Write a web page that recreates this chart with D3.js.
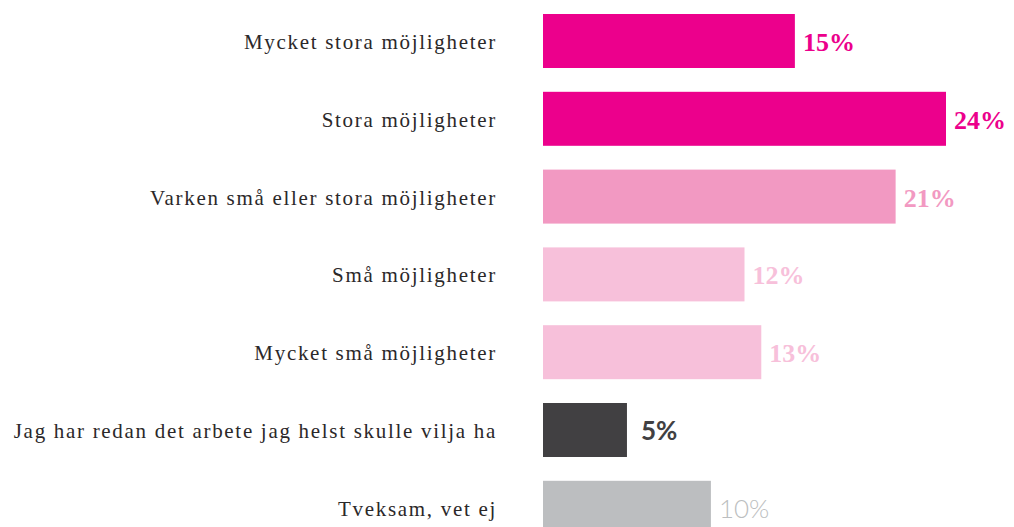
<!DOCTYPE html>
<html>
<head>
<meta charset="utf-8">
<script src="https://cdn.jsdelivr.net/npm/d3@7"></script>
<style>
  body { margin: 0; background: #fff; }
</style>
</head>
<body>
<svg id="chart" width="1014" height="527"></svg>
<script>
// Data
const categories = [
    "Mycket stora möjligheter",
    "Stora möjligheter",
    "Varken små eller stora möjligheter",
    "Små möjligheter",
    "Mycket små möjligheter",
    "Jag har redan det arbete jag helst skulle vilja ha",
    "Tveksam, vet ej"
];
const values = [15, 24, 21, 12, 13, 5, 10];
const valueLabels = ["15%", "24%", "21%", "12%", "13%", "5%", "10%"];

const colors = ["#ec008c", "#ec008c", "#f299c2", "#f7c0da", "#f7c0da", "#414042", "#bcbec0"];

const svg = d3.select("#chart"),
    width = +svg.attr("width"),
    height = +svg.attr("height");

const x = d3.scaleLinear()
    .domain([0, 24])
    .range([543, 946]);

const y = d3.scaleBand()
    .domain(categories)
    .range([2.1, 546.7])
    .paddingInner(0.306)
    .paddingOuter(0.153);

const rows = svg.selectAll(".row")
    .data(categories)
    .join("g")
    .attr("class", "row");

// Bars
rows.append("rect")
    .attr("x", x(0))
    .attr("y", d => y(d))
    .attr("width", (d, i) => x(values[i]) - x(0))
    .attr("height", y.bandwidth())
    .attr("fill", (d, i) => colors[i]);

// Category labels
rows.append("text")
    .attr("x", 497)
    .attr("y", d => y(d) + y.bandwidth() / 2 + 8)
    .attr("text-anchor", "end")
    .style("font-family", "Liberation Serif")
    .style("font-size", "21px")
    .style("letter-spacing", "1.7px")
    .style("fill", "#2b2829")
    .text(d => d);

// Value labels
rows.append("text")
    .attr("x", (d, i) => x(values[i]) + (i === 5 ? 14 : 8))
    .attr("y", d => y(d) + y.bandwidth() / 2 + 10)
    .style("font-family", (d, i) => i >= 5 ? "Lato" : "Liberation Serif")
    .style("font-weight", (d, i) => i === 6 ? "300" : "bold")
    .style("font-size", "26px")
    .style("fill", (d, i) => colors[i])
    .text((d, i) => valueLabels[i]);
</script>
</body>
</html>
